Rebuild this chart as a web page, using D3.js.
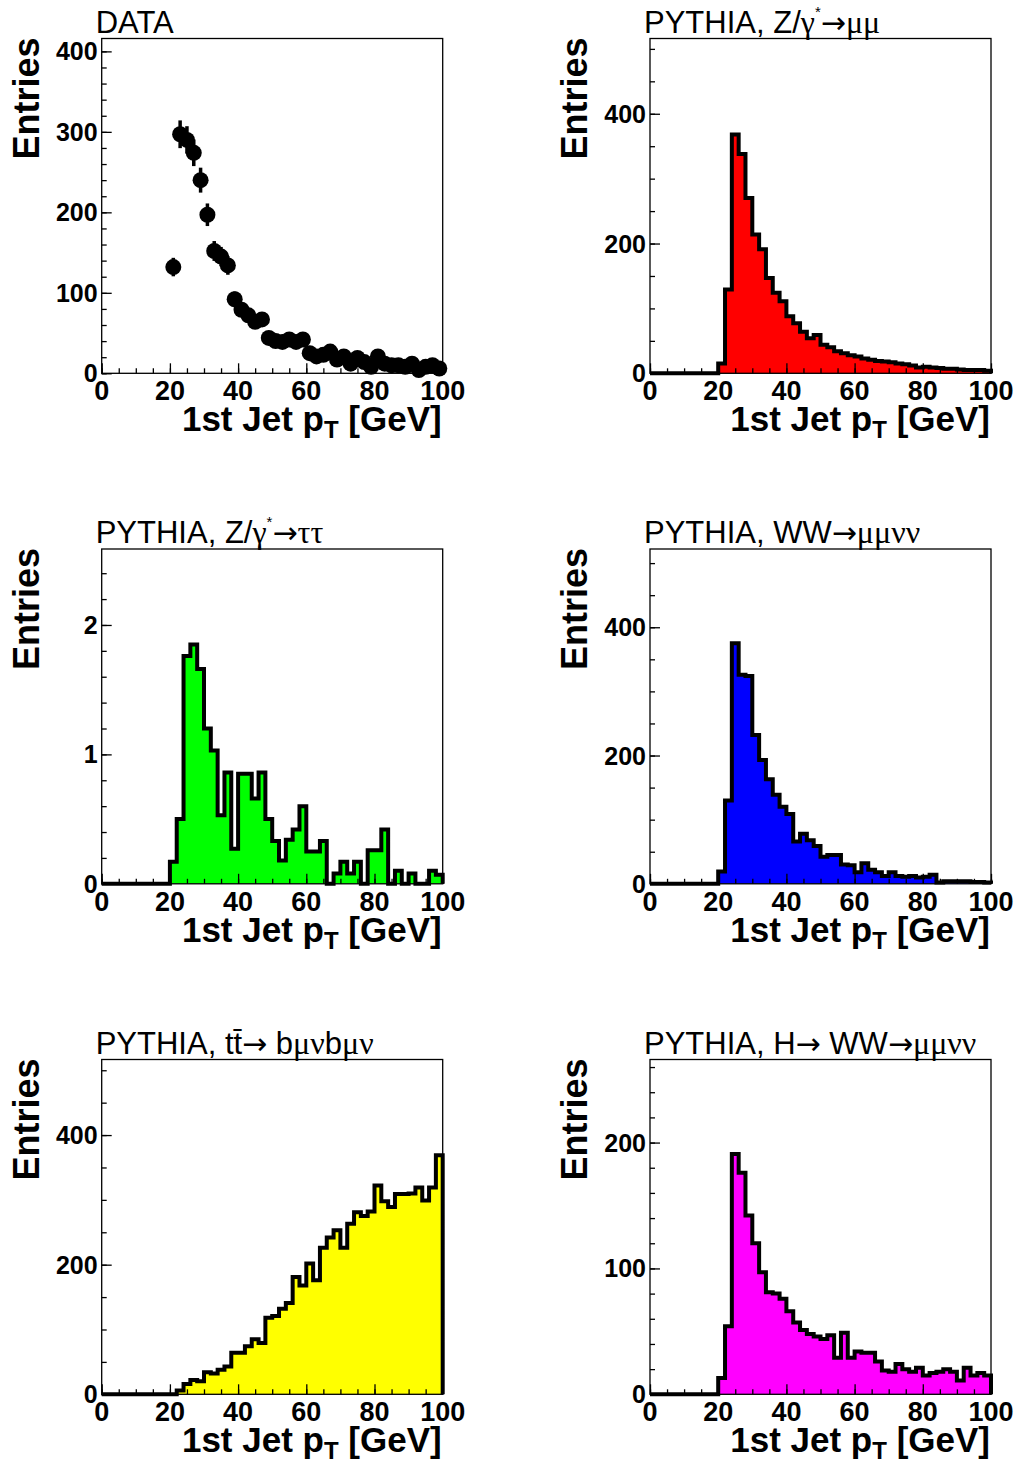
<!DOCTYPE html>
<html><head><meta charset="utf-8">
<script src="https://cdn.jsdelivr.net/npm/d3@7"></script>
<style>body{margin:0;background:#fff}</style>
</head><body><svg id="c" width="1019" height="1461" xmlns="http://www.w3.org/2000/svg"></svg>
<script>
// ---- bins (lower edges, GeV), 2 GeV wide ----
const binLow = [0,2,4,6,8,10,12,14,16,18,20,22,24,26,28,30,32,34,36,38,40,42,44,46,48,
                50,52,54,56,58,60,62,64,66,68,70,72,74,76,78,80,82,84,86,88,90,92,94,96,98];
const binWidth = 2;
const xTickLabels = [0,20,40,60,80,100];

// ---- series values (entries per bin) ----
const dataCounts = [0,0,0,0,0,0,0,0,0,0,
  132,297,290,274,240,197,152,145,134,92,79,72,64,67,44,40,39,42,39,42,
  25,21,23,27,17,21,12,19,14,8,21,12,10,10,8,12,4,8,10,6];
const zmumu = [0,0,0,0,0,0,0,0,0,0,
  15,129,368,338,270,214,191,147,124,111,88,77,64,54,59,44,40,34,31,28,
  26,23,21,19,18,17,15,14,12,9,10,9,8,7,7,6,5,5,5,4];
const ztautau = [0,0,0,0,0,0,0,0,0,0,
  0.17,0.50,1.76,1.85,1.66,1.20,1.03,0.53,0.86,0.27,0.85,0.85,0.66,0.86,0.50,
  0.33,0.18,0.34,0.42,0.60,0.25,0.25,0.33,0,0.08,0.17,0.08,0.17,0,0.26,
  0.26,0.42,0,0.10,0,0.08,0,0,0.10,0.07];
const wwmumu = [0,0,0,0,0,0,0,0,0,0,
  19,130,375,326,324,232,193,163,139,120,109,66,78,68,59,42,45,45,30,29,
  18,32,22,18,12,18,12,11,12,10,11,14,2,4,4,4,4,3,3,2];
const ttbar = [0,0,0,0,0,0,0,0,0,0,
  0,6,16,22,20,34,32,38,43,64,64,74,85,79,118,121,132,141,181,168,
  202,176,226,242,253,226,263,281,275,282,322,298,289,309,309,310,319,299,319,369];
const hww = [0,0,0,0,0,0,0,0,0,0,
  13,54,191,176,142,120,97,81,80,76,66,57,51,48,46,44,47,29,49,29,
  34,33,33,26,19,18,24,20,18,21,15,17,18,20,18,11,21,15,17,15];

// ---- y tick labels per panel ----
const yTicksData = [0,100,200,300,400];
const yTicksZmumu = [0,200,400];
const yTicksZtautau = [0,1,2];
const yTicksWW = [0,200,400];
const yTicksTT = [0,200,400];
const yTicksHWW = [0,100,200];

// ---- titles (s: serif greek, a: arrow, sup: superscript) ----
const titleData = [{t:"DATA"}];
const titleZmumu = [{t:"PYTHIA, Z/"},{t:"γ",s:1},{t:"*",sup:1},{t:"→",a:1},{t:"μμ",s:1}];
const titleZtautau = [{t:"PYTHIA, Z/"},{t:"γ",s:1},{t:"*",sup:1},{t:"→",a:1},{t:"ττ",s:1}];
const titleWW = [{t:"PYTHIA, WW"},{t:"→",a:1},{t:"μμνν",s:1}];
const titleTT = [{t:"PYTHIA, tt\u0304"},{t:"→",a:1},{t:" b"},{t:"μν",s:1},{t:"b"},{t:"μν",s:1}];
const titleHWW = [{t:"PYTHIA, H"},{t:"→",a:1},{t:" WW"},{t:"→",a:1},{t:"μμνν",s:1}];

const xTitle = "1st Jet p";
const yTitle = "Entries";

// ---- layout ----
const colLeft = [101.7, 650];
const frameW = 341;
const rowBottom = [373.3, 883.8, 1394.3];
const frameH = 334.8;
const SANS = "'Liberation Sans', Arial, Helvetica, sans-serif";
const SERIF = "'Liberation Serif', 'DejaVu Serif', 'Times New Roman', serif";
const ARROW = "'DejaVu Sans', 'Noto Sans', sans-serif";

const panels = [
  {c:0,r:0,vals:dataCounts,points:true,ymax:416,major:100,minor:20,yt:yTicksData,title:titleData},
  {c:1,r:0,vals:zmumu,color:"#ff0000",ymax:516,major:200,minor:50,yt:yTicksZmumu,title:titleZmumu},
  {c:0,r:1,vals:ztautau,color:"#00ff00",ymax:2.587,major:1,minor:0.2,yt:yTicksZtautau,title:titleZtautau},
  {c:1,r:1,vals:wwmumu,color:"#0000ff",ymax:522,major:200,minor:50,yt:yTicksWW,title:titleWW},
  {c:0,r:2,vals:ttbar,color:"#ffff00",ymax:516.6,major:200,minor:50,yt:yTicksTT,title:titleTT},
  {c:1,r:2,vals:hww,color:"#ff00ff",ymax:266,major:100,minor:20,yt:yTicksHWW,title:titleHWW}
];

const svg = d3.select("#c");

panels.forEach(p => {
  const left = colLeft[p.c], right = left + frameW;
  const bottom = rowBottom[p.r], top = bottom - frameH;
  const x = d3.scaleLinear().domain([0,100]).range([left,right]);
  const y = d3.scaleLinear().domain([0,p.ymax]).range([bottom,top]);
  const g = svg.append("g");

  if (!p.points) {
    let pts = [[x(0), y(0)]];
    binLow.forEach((lo,i) => {
      pts.push([x(lo), y(p.vals[i])]);
      pts.push([x(lo+binWidth), y(p.vals[i])]);
    });
    pts.push([x(100), y(0)]);
    g.append("path")
      .attr("d", d3.line()(pts) + "Z")
      .attr("fill", p.color)
      .attr("stroke", "none");
    g.append("path")
      .attr("d", d3.line()(pts))
      .attr("fill", "none")
      .attr("stroke", "#000")
      .attr("stroke-width", 4)
      .attr("stroke-linejoin", "miter");
  }

  g.append("rect").attr("x",left).attr("y",top).attr("width",frameW).attr("height",frameH)
    .attr("fill","none").attr("stroke","#000").attr("stroke-width",1.3);

  const xMinor = d3.range(0, 100.001, 5);
  g.append("g").attr("transform",`translate(0,${bottom})`)
    .call(d3.axisTop(x).tickValues(xMinor).tickSize(5).tickFormat(""))
    .call(s=>s.select(".domain").remove())
    .call(s=>s.selectAll("line").attr("stroke-width",1.3));
  g.append("g").attr("transform",`translate(0,${bottom})`)
    .call(d3.axisTop(x).tickValues(xTickLabels).tickSize(10).tickFormat(""))
    .call(s=>s.select(".domain").remove())
    .call(s=>s.selectAll("line").attr("stroke-width",1.3));
  const yMinor = d3.range(0, p.ymax + 1e-9, p.minor);
  g.append("g").attr("transform",`translate(${left},0)`)
    .call(d3.axisRight(y).tickValues(yMinor).tickSize(5).tickFormat(""))
    .call(s=>s.select(".domain").remove())
    .call(s=>s.selectAll("line").attr("stroke-width",1.3));
  g.append("g").attr("transform",`translate(${left},0)`)
    .call(d3.axisRight(y).tickValues(p.yt).tickSize(10).tickFormat(""))
    .call(s=>s.select(".domain").remove())
    .call(s=>s.selectAll("line").attr("stroke-width",1.3));

  g.selectAll(".xl").data(xTickLabels).join("text")
    .attr("x", d=>x(d)).attr("y", bottom+27)
    .attr("text-anchor","middle").attr("font-family",SANS).attr("font-weight","bold")
    .attr("font-size",27).text(d=>d);
  g.selectAll(".yl").data(p.yt).join("text")
    .attr("x", left-4).attr("y", d=>y(d)).attr("dy","0.36em")
    .attr("text-anchor","end").attr("font-family",SANS).attr("font-weight","bold")
    .attr("font-size",25).text(d=>d);

  const xt = g.append("text").attr("x", right-1).attr("y", bottom+58)
    .attr("text-anchor","end").attr("font-family",SANS).attr("font-weight","bold")
    .attr("font-size",35);
  xt.append("tspan").text(xTitle);
  xt.append("tspan").attr("font-size",24).attr("dy",7).text("T");
  xt.append("tspan").attr("dy",-7).text(" [GeV]");

  g.append("text").attr("transform",`translate(${left-63},${top-1}) rotate(-90)`)
    .attr("text-anchor","end").attr("font-family",SANS).attr("font-weight","bold")
    .attr("font-size",36).text(yTitle);

  const tt = g.append("text").attr("x", left-6).attr("y", top-6)
    .attr("font-family",SANS).attr("font-size",31);
  let lastSup = false;
  p.title.forEach(s => {
    const ts = tt.append("tspan").text(s.t);
    if (s.s) ts.attr("font-family",SERIF).attr("font-size",32);
    if (s.a) ts.attr("font-family",ARROW).attr("font-size",30);
    if (s.sup) { ts.attr("font-size",15).attr("dy",-16); lastSup = true; }
    else if (lastSup) { ts.attr("dy",16); lastSup = false; }
  });

  if (p.points) {
    const pts = binLow.map((lo,i)=>({xc:lo+binWidth/2, v:p.vals[i]})).filter(d=>d.v>0);
    g.selectAll(".err").data(pts).join("line")
      .attr("x1",d=>x(d.xc)).attr("x2",d=>x(d.xc))
      .attr("y1",d=>y(d.v-Math.sqrt(d.v))).attr("y2",d=>y(d.v+Math.sqrt(d.v)))
      .attr("stroke","#000").attr("stroke-width",3.5);
    g.selectAll(".pt").data(pts).join("circle")
      .attr("cx",d=>x(d.xc)).attr("cy",d=>y(d.v)).attr("r",8).attr("fill","#000");
  }
});
</script></body></html>
